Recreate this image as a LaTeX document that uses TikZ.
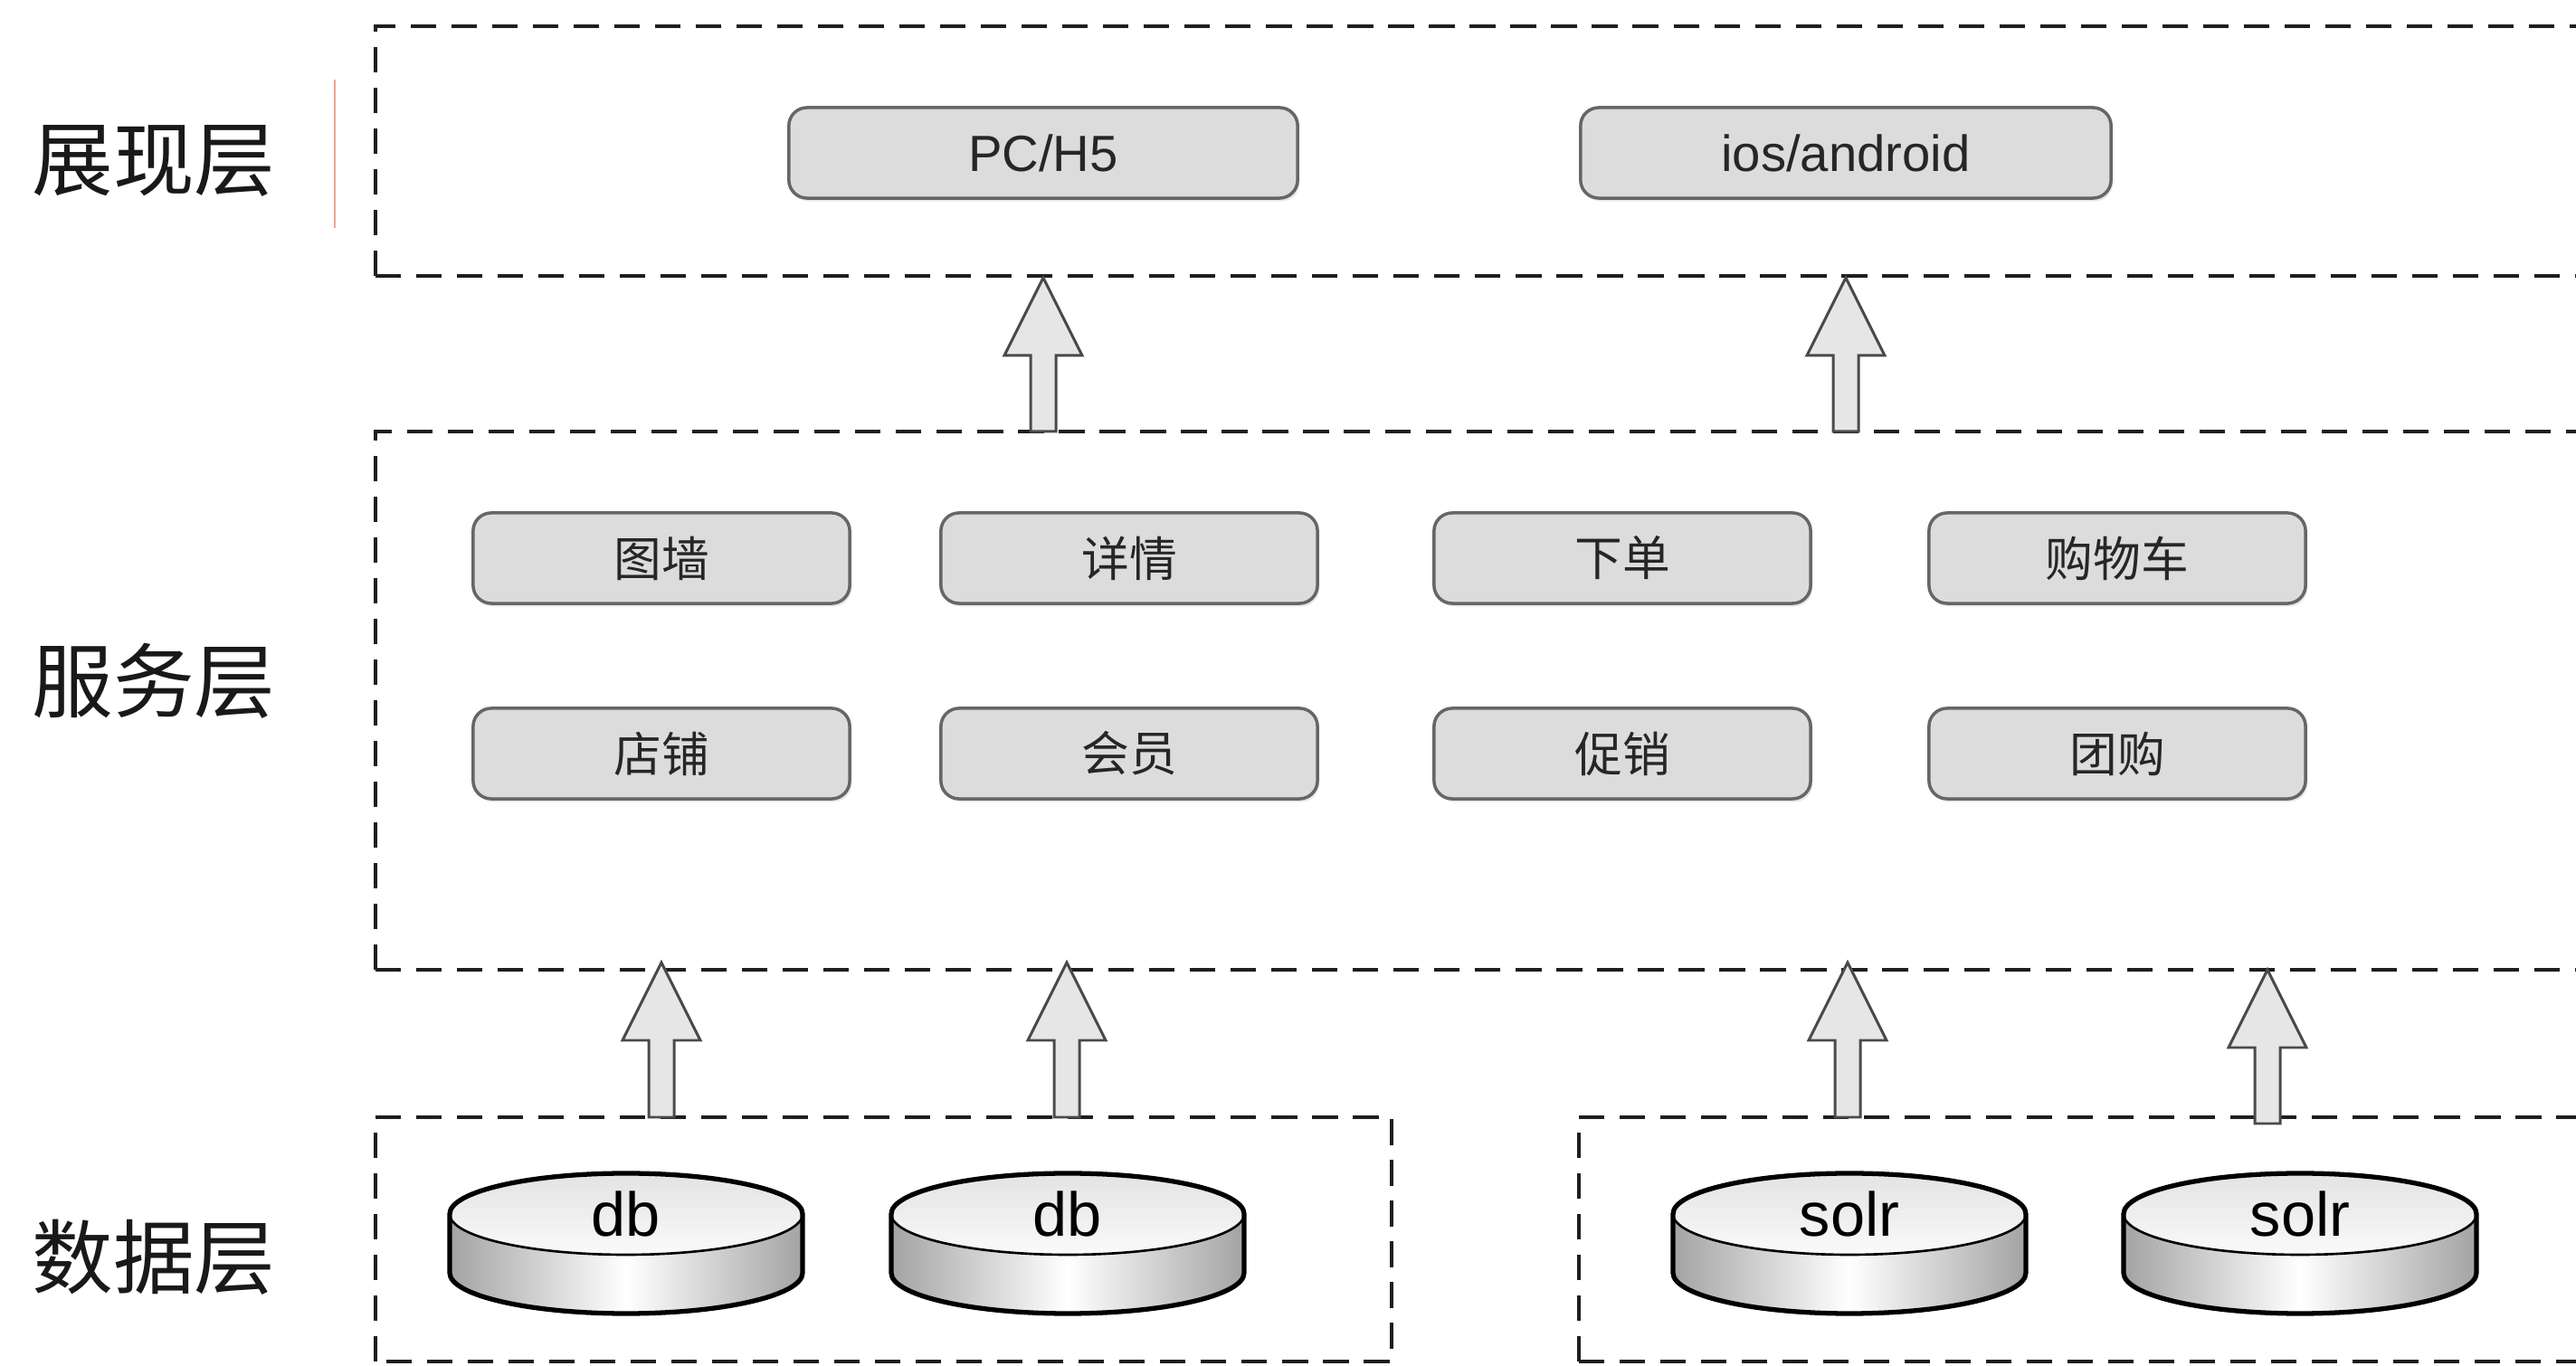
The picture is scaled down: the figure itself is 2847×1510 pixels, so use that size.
\documentclass[tikz,border=0pt]{standalone}
\usepackage{fontspec}
\setmainfont{Liberation Sans}
\newfontfamily\cjk{Noto Sans CJK SC}
\usetikzlibrary{calc,shadows}
\definecolor{boxfill}{HTML}{DCDCDC}
\definecolor{boxline}{HTML}{666666}
\definecolor{arrfill}{HTML}{E6E6E6}
\definecolor{arrline}{HTML}{4A4A4A}
\definecolor{dashline}{HTML}{1E1E1E}
\definecolor{accent}{HTML}{E8A896}
\tikzset{
  layerline/.style={draw=dashline, line width=1.15pt, dash pattern=on 8pt off 4.8pt},
  roundbox/.style={draw=boxline, fill=boxfill, line width=1pt, rounded corners=0.2cm,
    minimum height=1.0cm, inner sep=0pt, text=black!85,
    drop shadow={opacity=0.18, shadow xshift=0.02cm, shadow yshift=-0.035cm}},
  svcbox/.style={roundbox, minimum width=4.16cm, font=\cjk\fontsize{15pt}{17pt}\selectfont},
  topbox/.style={roundbox, font=\fontsize{16pt}{18pt}\selectfont},
  layerlabel/.style={font=\cjk\fontsize{25.5pt}{28pt}\selectfont, text=black!90, inner sep=0pt},
  blockarrow/.style={draw=arrline, fill=arrfill, line width=0.85pt, line join=miter},
  cyltext/.style={font=\fontsize{19.5pt}{21pt}\selectfont, text=black, inner sep=0pt},
  cylinderpic/.pic={
    \fill[left color=gray!72, right color=gray!72, middle color=white]
      (-195,0) -- (-195,65) arc[start angle=180, end angle=0, x radius=195, y radius=45]
      -- (195,0) arc[start angle=0, end angle=180, x radius=195, y radius=45] -- cycle;
    \fill[top color=gray!22, bottom color=gray!4] (0,0) ellipse[x radius=195, y radius=45];
    \draw[line width=0.75pt] (-195,0) arc[start angle=180, end angle=0, x radius=195, y radius=45];
    \draw[line width=1.5pt, line join=round] (-195,0) -- (-195,65)
      arc[start angle=180, end angle=0, x radius=195, y radius=45]
      -- (195,0) arc[start angle=0, end angle=-180, x radius=195, y radius=45] -- cycle;
  }
}
\newcommand\upblock[2]{%
  \draw[blockarrow] ($(#1)+(-14,0)$) -- ($(#2)+(-14,86)$) -- ($(#2)+(-43,86)$) -- (#2)
    -- ($(#2)+(43,86)$) -- ($(#2)+(14,86)$) -- ($(#1)+(14,0)$) -- cycle;}
\begin{document}
\begin{tikzpicture}[x=0.01cm, y=-0.01cm]
\useasboundingbox (0,0) rectangle (2847,1510);
\clip (0,0) rectangle (2847,1510);
\fill[white] (0,0) rectangle (2847,1510);

% layer labels
\node[layerlabel] (lab1) at (170,178) {展现层};
\node[layerlabel] (lab2) at (170,753) {服务层};
\node[layerlabel] (lab3) at (170,1390) {数据层};
\draw[accent, line width=0.5pt] (370,88) -- (370,252);

% dashed layer frames
\draw[layerline] (415,305) -- (415,29) -- (2900,29);
\draw[layerline] (415,305) -- (2900,305);
\draw[layerline] (415,1072) -- (415,477) -- (2900,477);
\draw[layerline] (415,1072) -- (2900,1072);
\draw[layerline] (415,1505) -- (415,1235) -- (1538,1235) -- (1538,1505) -- cycle;
\draw[layerline] (1745,1505) -- (1745,1235) -- (2900,1235);
\draw[layerline] (1745,1505) -- (2900,1505);

% presentation layer
\node[topbox, minimum width=5.62cm] (pc) at (1153,169) {PC/H5};
\node[topbox, minimum width=5.86cm] (ios) at (2040,169) {ios/android};

% service layer
\node[svcbox] (tuqiang) at (731,617) {图墙};
\node[svcbox] (xiangqing) at (1248,617) {详情};
\node[svcbox] (xiadan) at (1793,617) {下单};
\node[svcbox] (gouwuche) at (2340,617) {购物车};
\node[svcbox] (dianpu) at (731,833) {店铺};
\node[svcbox] (huiyuan) at (1248,833) {会员};
\node[svcbox] (cuxiao) at (1793,833) {促销};
\node[svcbox] (tuangou) at (2340,833) {团购};

% data layer cylinders
\pic at (692,1342) {cylinderpic};
\pic at (1180,1342) {cylinderpic};
\pic at (2044,1342) {cylinderpic};
\pic at (2542,1342) {cylinderpic};
\node[cyltext] (db1) at (692,1342) {db};
\node[cyltext] (db2) at (1180,1342) {db};
\node[cyltext] (solr1) at (2044,1342) {solr};
\node[cyltext] (solr2) at (2542,1342) {solr};

% arrow end points
\coordinate (u1s) at (1153,477); \coordinate (u1t) at (1153,307);
\coordinate (u2s) at (2040,477); \coordinate (u2t) at (2040,307);
\coordinate (d1s) at (731,1235);  \coordinate (d1t) at (731,1064);
\coordinate (d2s) at (1179,1235); \coordinate (d2t) at (1179,1064);
\coordinate (d3s) at (2042,1235); \coordinate (d3t) at (2042,1064);
\coordinate (d4s) at (2506,1242); \coordinate (d4t) at (2506,1072);

\upblock{u1s}{u1t}
\upblock{u2s}{u2t}
\upblock{d1s}{d1t}
\upblock{d2s}{d2t}
\upblock{d3s}{d3t}
\upblock{d4s}{d4t}
\end{tikzpicture}
\end{document}
